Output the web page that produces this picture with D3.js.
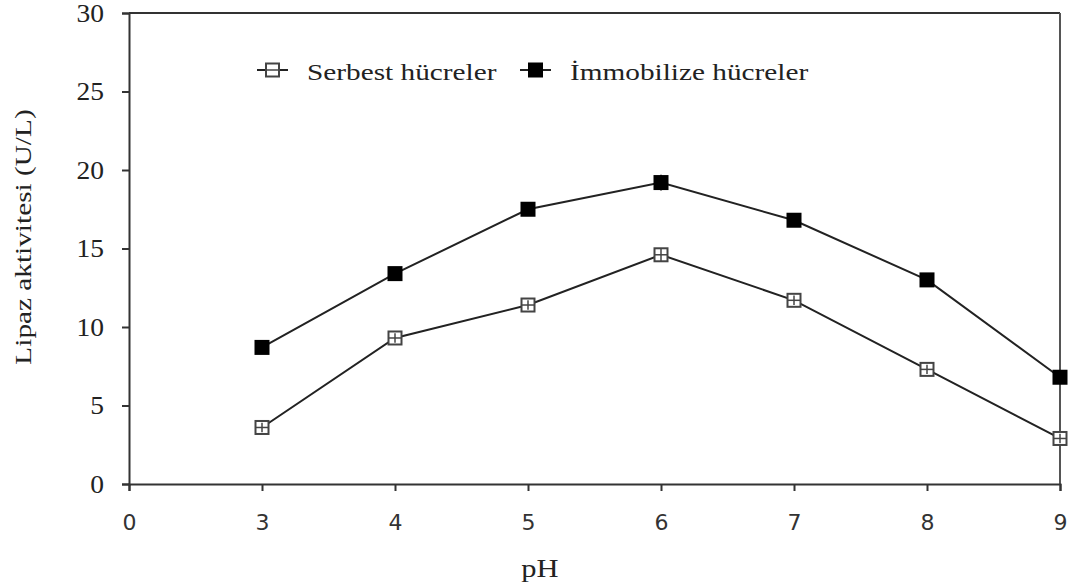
<!DOCTYPE html>
<html>
<head>
<meta charset="utf-8">
<script src="https://cdn.jsdelivr.net/npm/d3@7"></script>
<style>
  body { margin: 0; background: #fff; }
  svg { display: block; }
</style>
</head>
<body>
<div id="chart"></div>
<script>
const MARGINS = { left: 129, right: 10, top: 13, bottom: 102 };
const FRAME_WIDTH = 1070;
const FRAME_HEIGHT = 586;
const VIS_WIDTH = FRAME_WIDTH - MARGINS.left - MARGINS.right;
const VIS_HEIGHT = FRAME_HEIGHT - MARGINS.top - MARGINS.bottom;

const categories = ["0", "3", "4", "5", "6", "7", "8", "9"];
const phValues = ["3", "4", "5", "6", "7", "8", "9"];
const serbest = [3.6, 9.3, 11.4, 14.6, 11.7, 7.3, 2.9];
const serbestErr = [0.3, 0.3, 0.3, 0.4, 0.3, 0.3, 0.3];
const immobilize = [8.7, 13.4, 17.5, 19.2, 16.8, 13.0, 6.8];
const immobilizeErr = [0.3, 0.3, 0.4, 0.5, 0.4, 0.3, 0.3];
const yTicks = [0, 5, 10, 15, 20, 25, 30];

const SERIF = "'Liberation Serif', 'Times New Roman', serif";
const STRETCH = 1.22; // text in the picture is a bit wider than tall

const svg = d3.select("#chart").append("svg")
  .attr("width", FRAME_WIDTH)
  .attr("height", FRAME_HEIGHT);

const g = svg.append("g")
  .attr("transform", "translate(" + MARGINS.left + "," + MARGINS.top + ")");

const X_SCALE = d3.scalePoint().domain(categories).range([0, VIS_WIDTH]);
const Y_SCALE = d3.scaleLinear().domain([0, 30]).range([VIS_HEIGHT, 0]);

// frame: top and right borders
g.append("line")
  .attr("x1", 0).attr("x2", VIS_WIDTH)
  .attr("y1", 0).attr("y2", 0)
  .attr("stroke", "#333").attr("stroke-width", 2);
g.append("line")
  .attr("x1", VIS_WIDTH).attr("x2", VIS_WIDTH)
  .attr("y1", 0).attr("y2", VIS_HEIGHT)
  .attr("stroke", "#555").attr("stroke-width", 2);

// axes
const xAxis = g.append("g")
  .attr("transform", "translate(0," + VIS_HEIGHT + ")")
  .call(d3.axisBottom(X_SCALE).tickSize(7).tickPadding(23));
xAxis.selectAll("text")
  .attr("font-family", "'DejaVu Sans', sans-serif")
  .attr("font-size", "22px")
  .attr("fill", "#333");

const yAxis = g.append("g")
  .call(d3.axisLeft(Y_SCALE).tickValues(yTicks).tickSize(7).tickPadding(18));
yAxis.selectAll("text")
  .attr("font-family", SERIF)
  .attr("font-size", "25px")
  .attr("transform", "translate(-25,0) scale(1.1,1) translate(25,0)")
  .attr("fill", "#222");

[xAxis, yAxis].forEach((a) => {
  a.select(".domain").attr("stroke", "#333").attr("stroke-width", 2);
  a.selectAll(".tick line").attr("stroke", "#333").attr("stroke-width", 2);
});

// axis titles
svg.append("text")
  .attr("transform", "translate(540,577) scale(" + STRETCH + ",1)")
  .attr("text-anchor", "middle")
  .attr("font-family", SERIF)
  .attr("font-size", "25px")
  .attr("fill", "#222")
  .text("pH");

svg.append("text")
  .attr("transform", "translate(31,237) rotate(-90) scale(" + STRETCH + ",1)")
  .attr("text-anchor", "middle")
  .attr("font-family", SERIF)
  .attr("font-size", "24px")
  .attr("fill", "#222")
  .text("Lipaz aktivitesi (U/L)");

// series
const series = [
  { name: "Serbest hücreler", values: serbest, err: serbestErr, fill: "#fff", stroke: "#444" },
  { name: "İmmobilize hücreler", values: immobilize, err: immobilizeErr, fill: "#000", stroke: "#000" },
];

const line = d3.line()
  .x((d, i) => X_SCALE(phValues[i]))
  .y((d) => Y_SCALE(d));

const MS = 13;

series.forEach((s) => {
  g.append("path")
    .datum(s.values)
    .attr("d", line)
    .attr("fill", "none")
    .attr("stroke", "#222")
    .attr("stroke-width", 2);

  const pts = g.selectAll(null)
    .data(s.values.map((v, i) => ({ x: phValues[i], y: v, e: s.err[i] })))
    .enter()
    .append("g");

  pts.append("rect")
    .attr("x", (d) => X_SCALE(d.x) - MS / 2)
    .attr("y", (d) => Y_SCALE(d.y) - MS / 2)
    .attr("width", MS)
    .attr("height", MS)
    .attr("fill", s.fill)
    .attr("stroke", s.stroke)
    .attr("stroke-width", 2);

  // error bars
  pts.append("line")
    .attr("x1", (d) => X_SCALE(d.x))
    .attr("x2", (d) => X_SCALE(d.x))
    .attr("y1", (d) => Y_SCALE(d.y - d.e))
    .attr("y2", (d) => Y_SCALE(d.y + d.e))
    .attr("stroke", s.stroke)
    .attr("stroke-width", 1.5);
  pts.append("line")
    .attr("x1", (d) => X_SCALE(d.x) - MS / 2)
    .attr("x2", (d) => X_SCALE(d.x) + MS / 2)
    .attr("y1", (d) => Y_SCALE(d.y))
    .attr("y2", (d) => Y_SCALE(d.y))
    .attr("stroke", s.stroke)
    .attr("stroke-width", 1.5);
});

// legend
const legendItems = [
  { x: 257, textX: 307 },
  { x: 520, textX: 570 },
];
legendItems.forEach((l, i) => {
  const s = series[i];
  const lg = svg.append("g");
  lg.append("line")
    .attr("x1", l.x).attr("x2", l.x + 31)
    .attr("y1", 70).attr("y2", 70)
    .attr("stroke", "#222").attr("stroke-width", 2);
  lg.append("rect")
    .attr("x", l.x + 15.5 - MS / 2)
    .attr("y", 70 - MS / 2)
    .attr("width", MS).attr("height", MS)
    .attr("fill", s.fill)
    .attr("stroke", s.stroke)
    .attr("stroke-width", 2);
  if (i === 0) {
    lg.append("line")
      .attr("x1", l.x + 15.5 - MS / 2).attr("x2", l.x + 15.5 + MS / 2)
      .attr("y1", 70).attr("y2", 70)
      .attr("stroke", s.stroke).attr("stroke-width", 1.5);
  }
  lg.append("text")
    .attr("transform", "translate(" + l.textX + ",80) scale(" + STRETCH + ",1)")
    .attr("font-family", SERIF)
    .attr("font-size", "24px")
    .attr("fill", "#222")
    .text(s.name);
});
</script>
</body>
</html>
